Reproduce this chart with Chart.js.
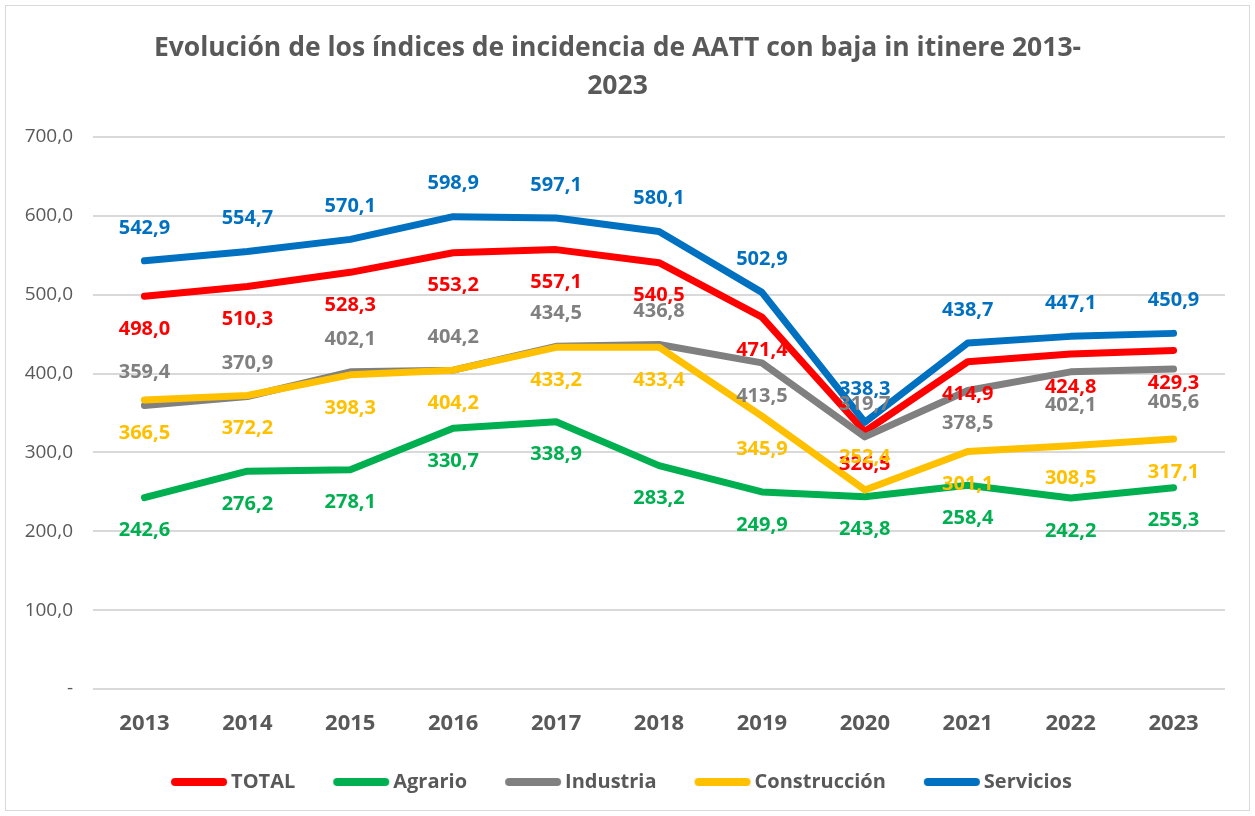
<!DOCTYPE html>
<html>
<head>
<meta charset="utf-8">
<script src="https://cdn.jsdelivr.net/npm/chart.js@4/dist/chart.umd.min.js"></script>
<style>
  html, body { margin: 0; padding: 0; background: #fff; }
  #wrap { width: 1255px; height: 816px; position: relative; }
</style>
</head>
<body>
<div id="wrap"><canvas id="myChart" width="1255" height="816"></canvas></div>
<script>
// data
const years = ['2013', '2014', '2015', '2016', '2017', '2018', '2019', '2020', '2021', '2022', '2023'];
const total = [498.0, 510.3, 528.3, 553.2, 557.1, 540.5, 471.4, 326.5, 414.9, 424.8, 429.3];
const agrario = [242.6, 276.2, 278.1, 330.7, 338.9, 283.2, 249.9, 243.8, 258.4, 242.2, 255.3];
const industria = [359.4, 370.9, 402.1, 404.2, 434.5, 436.8, 413.5, 319.7, 378.5, 402.1, 405.6];
const construccion = [366.5, 372.2, 398.3, 404.2, 433.2, 433.4, 345.9, 252.4, 301.1, 308.5, 317.1];
const servicios = [542.9, 554.7, 570.1, 598.9, 597.1, 580.1, 502.9, 338.3, 438.7, 447.1, 450.9];
const yTicks = [0, 100, 200, 300, 400, 500, 600, 700];

// which side of the point each value label sits on (u = above, d = below)
const labelSides = {
  TOTAL: 'ddddddddddd',
  Agrario: 'ddddddddddd',
  Industria: 'uuuuuududdd',
  'Construcción': 'ddddddduddd',
  Servicios: 'uuuuuuuuuuu'
};

const FONT = "'Open Sans', 'Noto Sans', sans-serif";
const GREY = '#595959';

const fmt = v => v.toFixed(1).replace('.', ',');

// legend line marker, drawn a bit to the right so it sits close to the text
function legendMarker(color) {
  const c = document.createElement('canvas');
  c.width = 72; c.height = 10;
  const g = c.getContext('2d');
  g.strokeStyle = color;
  g.lineWidth = 8;
  g.lineCap = 'round';
  g.beginPath();
  g.moveTo(19, 5);
  g.lineTo(67, 5);
  g.stroke();
  return c;
}

function series(label, data, color, order) {
  return {
    label: label,
    data: data,
    borderColor: color,
    backgroundColor: color,
    borderWidth: 7,
    borderCapStyle: 'round',
    borderJoinStyle: 'round',
    pointRadius: 0,
    tension: 0,
    order: order,
    marker: legendMarker(color)
  };
}

const valueLabels = {
  id: 'valueLabels',
  afterDatasetsDraw(chart) {
    const ctx = chart.ctx;
    ctx.save();
    ctx.font = 'bold 20px ' + FONT;
    ctx.textAlign = 'center';
    ctx.textBaseline = 'middle';
    chart.data.datasets.forEach((ds, i) => {
      const meta = chart.getDatasetMeta(i);
      const sides = labelSides[ds.label];
      ctx.fillStyle = ds.borderColor;
      meta.data.forEach((pt, j) => {
        const dy = sides[j] === 'u' ? -33 : 33;
        ctx.fillText(fmt(ds.data[j]), pt.x, pt.y + dy);
      });
    });
    ctx.restore();
  }
};

const frame = {
  id: 'frame',
  beforeDraw(chart) {
    const ctx = chart.ctx;
    ctx.save();
    ctx.fillStyle = '#fff';
    ctx.fillRect(0, 0, chart.width, chart.height);
    ctx.strokeStyle = '#d9d9d9';
    ctx.lineWidth = 1;
    ctx.strokeRect(5.5, 5.5, 1244, 805);
    ctx.restore();
  }
};

var ctx = document.getElementById('myChart').getContext('2d');
var chart = new Chart(ctx, {
  type: 'line',
  data: {
    labels: years,
    datasets: [
      series('TOTAL', total, '#FF0000', 5),
      series('Agrario', agrario, '#00B050', 4),
      series('Industria', industria, '#808080', 3),
      series('Construcción', construccion, '#FFC000', 2),
      series('Servicios', servicios, '#0070C0', 1)
    ]
  },
  options: {
    responsive: false,
    animation: false,
    layout: { padding: { left: 10, right: 30, top: 5, bottom: 14 } },
    plugins: {
      tooltip: { enabled: false },
      title: {
        display: true,
        text: ['Evolución de los índices de incidencia de AATT con baja in itinere 2013-', '2023'],
        color: GREY,
        font: { family: FONT, size: 26.5, weight: 'bold', lineHeight: 1.47 },
        padding: { top: 23.5, bottom: 30.5 }
      },
      legend: {
        position: 'bottom',
        labels: {
          color: GREY,
          font: { family: FONT, size: 20, weight: 'bold' },
          usePointStyle: true,
          pointStyleWidth: 58,
          padding: 30,
          sort: (a, b) => a.datasetIndex - b.datasetIndex,
          generateLabels: c => Chart.defaults.plugins.legend.labels.generateLabels(c).map(l => {
            l.pointStyle = c.data.datasets[l.datasetIndex].marker;
            return l;
          })
        }
      }
    },
    scales: {
      x: {
        offset: true,
        afterFit: s => { s.height = 53; },
        grid: { display: false, drawTicks: false },
        border: { display: false },
        ticks: { color: GREY, font: { family: FONT, size: 22, weight: 'bold' }, padding: 22 }
      },
      y: {
        min: 0,
        max: 700,
        afterBuildTicks: s => { s.ticks = yTicks.map(v => ({ value: v })); },
        afterFit: s => { s.width = 83; },
        grid: { color: '#d9d9d9', lineWidth: 2, drawTicks: false },
        border: { display: false },
        ticks: {
          color: GREY,
          font: { family: FONT, size: 19 },
          padding: 20,
          callback: v => v === 0 ? '-' : fmt(v)
        }
      }
    }
  },
  plugins: [frame, valueLabels]
});
</script>
</body>
</html>
